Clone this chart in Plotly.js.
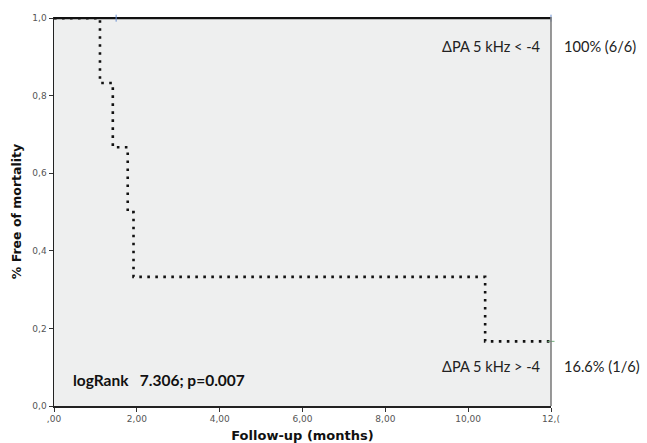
<!DOCTYPE html>
<html>
<head>
<meta charset="utf-8">
<script src="https://cdn.plot.ly/plotly-3.0.1.min.js"></script>
<style>html,body{margin:0;padding:0;background:#fff;}#chart{width:647px;height:443px;}</style>
</head>
<body>
<div id="chart"></div>
<script>
// Group ΔPA 5 kHz < -4 (no events)
const lowTime = [0, 12];
const lowSurv = [1.0, 1.0];
// Group ΔPA 5 kHz > -4 (step function)
const highTime = [0, 1.11, 1.42, 1.78, 1.92, 10.41, 12];
const highSurv = [1.0, 0.833, 0.667, 0.5, 0.333, 0.1667, 0.1667];
// censor marks
const censorLowTime = [1.5, 12];
const censorLowSurv = [1.0, 1.0];
const censorHighTime = [12];
const censorHighSurv = [0.1667];

const xTickVals = [0, 2, 4, 6, 8, 10, 12];
const xTickText = [",00", "2,00", "4,00", "6,00", "8,00", "10,00", "12,("];
const yTickVals = [0, 0.2, 0.4, 0.6, 0.8, 1.0];
const yTickText = ["0,0", "0,2", "0,4", "0,6", "0,8", "1,0"];

const traces = [
  {x: highTime, y: highSurv, mode: 'lines', line: {shape: 'hv', color: '#111', width: 2.6, dash: '2.6px,5.4px'}, hoverinfo: 'skip'},
  {x: lowTime, y: lowSurv, mode: 'lines', line: {shape: 'hv', color: '#111', width: 2.4}, hoverinfo: 'skip'},
  {x: censorLowTime, y: censorLowSurv, mode: 'markers', marker: {symbol: 'line-ns', size: 5, line: {color: '#6a8fd0', width: 1}}, cliponaxis: false, hoverinfo: 'skip'},
  {x: censorHighTime, y: censorHighSurv, mode: 'markers', marker: {symbol: 'line-ew', size: 5, line: {color: '#6fae7a', width: 1}}, cliponaxis: false, hoverinfo: 'skip'}
];

const lblFont = {family: 'Lato, "Open Sans", sans-serif', size: 14.6, color: '#222'};

const layout = {
  width: 647, height: 443,
  margin: {l: 54, r: 96, t: 17, b: 37, pad: 0},
  paper_bgcolor: '#ffffff',
  plot_bgcolor: '#eeefef',
  showlegend: false,
  xaxis: {
    range: [0, 12], tickvals: xTickVals, ticktext: xTickText,
    showgrid: false, zeroline: false, showline: true, linecolor: '#222', linewidth: 1.5,
    ticks: 'outside', ticklen: 4, tickwidth: 1, tickcolor: '#333',
    tickfont: {family: 'DejaVu Sans, Verdana, sans-serif', size: 9, color: '#555'},
    title: {text: 'Follow-up (months)', font: {family: 'DejaVu Sans, Verdana, sans-serif', size: 13, color: '#111', weight: 'bold'}, standoff: 7},
    fixedrange: true
  },
  yaxis: {
    range: [0, 1.003], tickvals: yTickVals, ticktext: yTickText,
    showgrid: false, zeroline: false, showline: true, linecolor: '#222', linewidth: 1.5,
    ticks: 'outside', ticklen: 4, tickwidth: 1, tickcolor: '#333',
    tickfont: {family: 'DejaVu Sans, Verdana, sans-serif', size: 9, color: '#555'},
    title: {text: '% Free of mortality', font: {family: 'DejaVu Sans, Verdana, sans-serif', size: 12.5, color: '#111', weight: 'bold'}, standoff: 8},
    fixedrange: true
  },
  shapes: [
    {type: 'line', xref: 'paper', yref: 'paper', x0: 1, x1: 1, y0: 0, y1: 1, line: {color: '#777', width: 1.5}}
  ],
  annotations: [
    {xref: 'x', yref: 'y', x: 11.8, y: 0.927, xanchor: 'right', yanchor: 'middle', text: 'ΔPA 5 kHz < -4', showarrow: false, font: lblFont},
    {xref: 'paper', yref: 'y', x: 1.022, y: 0.927, xanchor: 'left', yanchor: 'middle', text: '100% (6/6)', showarrow: false, font: lblFont},
    {xref: 'x', yref: 'y', x: 11.8, y: 0.102, xanchor: 'right', yanchor: 'middle', text: 'ΔPA 5 kHz > -4', showarrow: false, font: lblFont},
    {xref: 'paper', yref: 'y', x: 1.022, y: 0.102, xanchor: 'left', yanchor: 'middle', text: '16.6% (1/6)', showarrow: false, font: lblFont},
    {xref: 'x', yref: 'y', x: 0.4, y: 0.066, xanchor: 'left', yanchor: 'middle', text: '<b>logRank&nbsp;&nbsp;&nbsp;7.306;&nbsp;p=0.007</b>', showarrow: false, font: {family: 'Lato, "Open Sans", sans-serif', size: 15.5, color: '#111'}}
  ]
};

Plotly.newPlot('chart', traces, layout, {displayModeBar: false, staticPlot: true});
</script>
</body>
</html>
